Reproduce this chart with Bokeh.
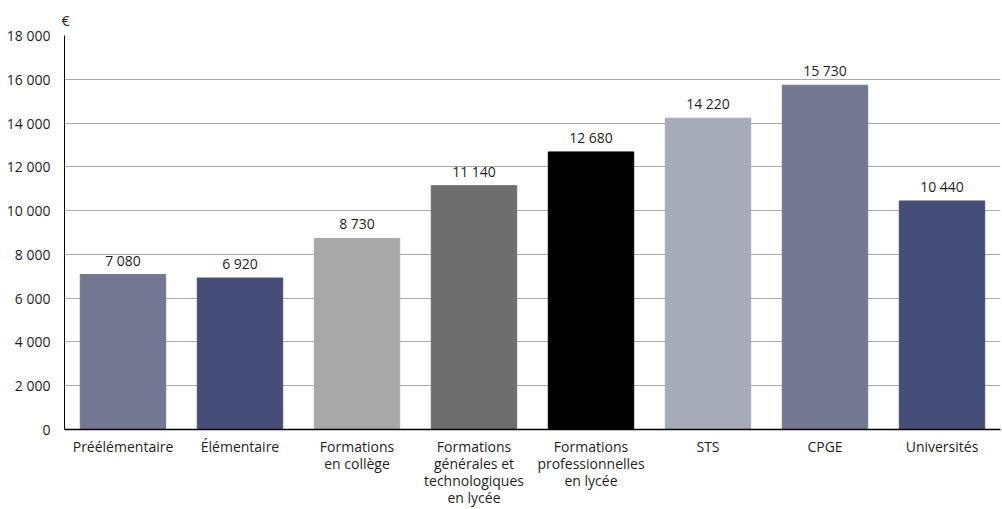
from bokeh.plotting import figure
from bokeh.models import ColumnDataSource, LabelSet, CustomJSTickFormatter, FixedTicker, Range1d, FactorRange
from bokeh.core.properties import value
from bokeh.embed import file_html
from bokeh.resources import INLINE

categories = [
    "Préélémentaire",
    "Élémentaire",
    "Formations\nen collège",
    "Formations\ngénérales et\ntechnologiques\nen lycée",
    "Formations\nprofessionnelles\nen lycée",
    "STS",
    "CPGE",
    "Universités",
]
values = [7080, 6920, 8730, 11140, 12680, 14220, 15730, 10440]
value_labels = ["7 080", "6 920", "8 730", "11 140", "12 680", "14 220", "15 730", "10 440"]
colors = ["#737791", "#464e78", "#a8a8a8", "#6e6e6e", "#000000", "#a7aab8", "#737791", "#464e78"]
y_ticks = [0, 2000, 4000, 6000, 8000, 10000, 12000, 14000, 16000, 18000]
unit_label = "€"

FONT = "Open Sans"
FS = "14px"
TXT = "#1e1e1e"

source = ColumnDataSource(dict(cat=categories, val=values, lab=value_labels, col=colors))

p = figure(
    x_range=FactorRange(*categories, range_padding=0),
    y_range=Range1d(0, 18000),
    width=1002, height=509,
    output_backend="svg", toolbar_location=None,
    min_border_left=64, min_border_right=2, min_border_top=35, min_border_bottom=77,
    title=unit_label,
)
p.title.align = "left"
p.title.offset = -3
p.title.text_font = FONT
p.title.text_font_size = FS
p.title.text_font_style = "normal"
p.title.text_color = TXT
p.title.standoff = 12

p.vbar(x="cat", top="val", width=0.73, color="col", source=source)

labels = LabelSet(x="cat", y="val", text="lab", source=source, y_offset=5,
                  text_align="center", text_baseline="bottom",
                  text_font=value(FONT), text_font_size=value(FS), text_color=TXT)
p.add_layout(labels)

p.yaxis.ticker = FixedTicker(ticks=y_ticks)
p.yaxis.formatter = CustomJSTickFormatter(code="return tick.toString().replace(/\\B(?=(\\d{3})+(?!\\d))/g, ' ');")
p.yaxis.major_tick_line_color = None
p.yaxis.minor_tick_line_color = None
p.yaxis.axis_line_color = "#000000"
p.yaxis.major_label_text_font = FONT
p.yaxis.major_label_text_font_size = FS
p.yaxis.major_label_text_color = TXT
p.yaxis.major_label_standoff = 8

p.xaxis.major_tick_line_color = None
p.xaxis.minor_tick_line_color = None
p.xaxis.axis_line_color = "#000000"
p.xaxis.axis_line_width = 1.5
p.xaxis.major_label_text_font = FONT
p.xaxis.major_label_text_font_size = FS
p.xaxis.major_label_text_color = TXT
p.xaxis.major_label_text_line_height = 0.9
p.xaxis.major_label_standoff = 1
p.xaxis.major_label_orientation = "horizontal"

p.xgrid.grid_line_color = None
p.ygrid.grid_line_color = "#aaaaaa"
p.ygrid.grid_line_width = 1
p.outline_line_color = None
p.background_fill_color = "white"
p.border_fill_color = "white"

open("out.html", "w").write(file_html(p, INLINE))
